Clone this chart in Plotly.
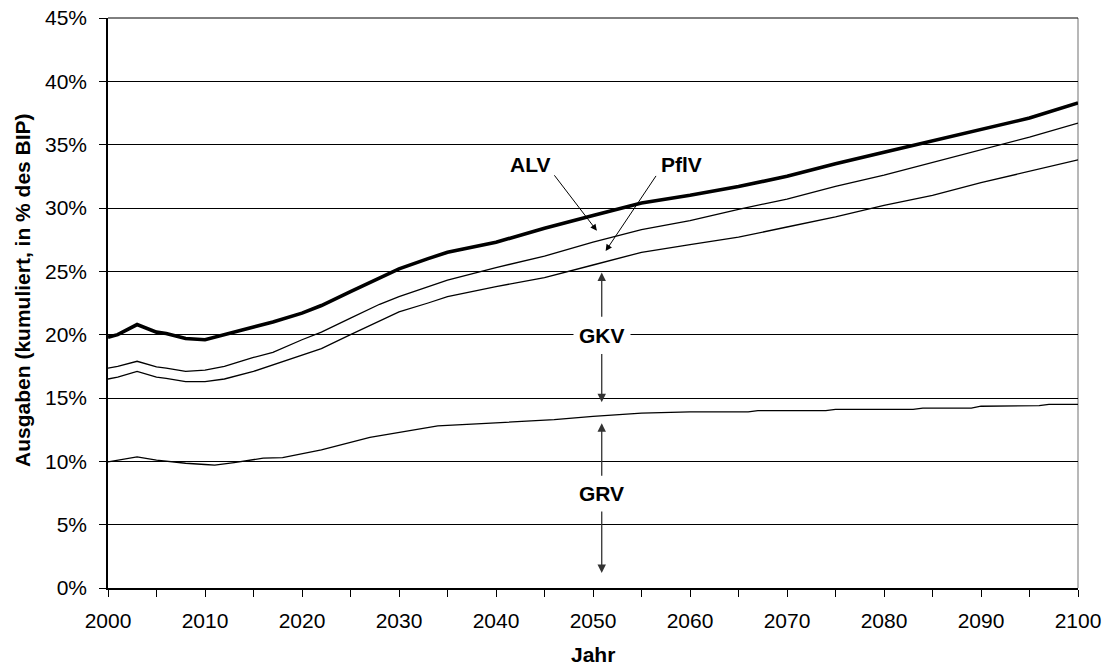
import plotly.graph_objects as go

# ---------------- data (percent of GDP, cumulative) ----------------
years = [2000, 2001, 2003, 2005, 2006, 2008, 2010, 2012, 2015, 2017, 2020, 2022,
         2025, 2028, 2030, 2033, 2035, 2040, 2045, 2050, 2055, 2060, 2065, 2070,
         2075, 2080, 2085, 2090, 2095, 2100]
alv = [19.8, 20.0, 20.8, 20.2, 20.1, 19.7, 19.6, 20.0, 20.6, 21.0, 21.7, 22.3,
       23.4, 24.5, 25.2, 26.0, 26.5, 27.3, 28.4, 29.4, 30.4, 31.0, 31.7, 32.5,
       33.5, 34.4, 35.3, 36.2, 37.1, 38.3]
pflv = [17.35, 17.5, 17.9, 17.45, 17.35, 17.1, 17.2, 17.5, 18.2, 18.6, 19.6, 20.2,
        21.3, 22.4, 23.0, 23.8, 24.3, 25.3, 26.2, 27.3, 28.3, 29.0, 29.9, 30.7,
        31.7, 32.6, 33.6, 34.6, 35.6, 36.7]
gkv = [16.5, 16.65, 17.1, 16.65, 16.55, 16.3, 16.3, 16.5, 17.1, 17.6, 18.4, 18.9,
       20.0, 21.1, 21.8, 22.5, 23.0, 23.8, 24.5, 25.5, 26.5, 27.1, 27.7, 28.5,
       29.3, 30.2, 31.0, 32.0, 32.9, 33.8]
grv_years = [2000, 2003, 2005, 2008, 2010, 2011, 2013, 2016, 2018, 2022, 2027, 2030,
             2034, 2038, 2042, 2046, 2050, 2055, 2060, 2066, 2067, 2074, 2075, 2083,
             2084, 2089, 2090, 2096, 2097, 2100]
grv = [9.95, 10.35, 10.1, 9.85, 9.75, 9.7, 9.9, 10.25, 10.3, 10.9, 11.9, 12.3,
       12.8, 12.95, 13.1, 13.3, 13.55, 13.8, 13.9, 13.9, 14.0, 14.0, 14.1, 14.1,
       14.2, 14.2, 14.35, 14.4, 14.5, 14.5]

y_ticks = [0, 5, 10, 15, 20, 25, 30, 35, 40, 45]
x_ticks = [2000, 2010, 2020, 2030, 2040, 2050, 2060, 2070, 2080, 2090, 2100]

FONT = "Arial, Liberation Sans, sans-serif"

def pct(v):
    return [x / 100 for x in v]

fig = go.Figure()
fig.add_trace(go.Scatter(x=grv_years, y=pct(grv), mode="lines",
                         line=dict(color="black", width=1.3), name="GRV"))
fig.add_trace(go.Scatter(x=years, y=pct(gkv), mode="lines",
                         line=dict(color="black", width=1.3), name="GKV"))
fig.add_trace(go.Scatter(x=years, y=pct(pflv), mode="lines",
                         line=dict(color="black", width=1.3), name="PflV"))
fig.add_trace(go.Scatter(x=years, y=pct(alv), mode="lines",
                         line=dict(color="black", width=3.6), name="ALV"))

annotations = []

def label(text, x, y, bg=None):
    d = dict(x=x, y=y, xref="x", yref="y", text="<b>%s</b>" % text, showarrow=False,
             font=dict(family=FONT, size=21, color="black"),
             xanchor="center", yanchor="middle")
    if bg:
        d.update(bgcolor=bg, borderpad=5)
    annotations.append(d)

def arrow(x0, y0, x1, y1, color="black", width=1):
    annotations.append(dict(x=x1, y=y1, ax=x0, ay=y0, xref="x", yref="y",
                            axref="x", ayref="y", text="", showarrow=True,
                            arrowhead=2, arrowsize=1.3, arrowwidth=width,
                            arrowcolor=color, standoff=0, startstandoff=0))

# ALV
label("ALV", 2043.5, 0.334)
arrow(2045.9, 0.327, 2050.4, 0.282)
# PflV
label("PflV", 2059.1, 0.334)
arrow(2056.6, 0.3265, 2051.3, 0.266)
# GKV
label("GKV", 2050.9, 0.1995, bg="white")
arrow(2050.9, 0.213, 2050.9, 0.249, color="#333", width=1.3)
arrow(2050.9, 0.186, 2050.9, 0.1467, color="#333", width=1.3)
# GRV
label("GRV", 2050.9, 0.075)
arrow(2050.9, 0.0875, 2050.9, 0.130, color="#333", width=1.3)
arrow(2050.9, 0.0615, 2050.9, 0.0118, color="#333", width=1.3)

# axis titles
annotations.append(dict(x=-0.0887, y=0.5228, xref="paper", yref="paper",
                        text="<b>Ausgaben (kumuliert, in % des BIP)</b>", textangle=-90,
                        showarrow=False, font=dict(family=FONT, size=21, color="black"),
                        xanchor="center", yanchor="middle"))
annotations.append(dict(x=0.5, y=-0.117, xref="paper", yref="paper",
                        text="<b>Jahr</b>", showarrow=False,
                        font=dict(family=FONT, size=21, color="black"),
                        xanchor="center", yanchor="middle"))

fig.update_layout(
    width=1110, height=671,
    margin=dict(l=108, r=32, t=18, b=83, autoexpand=False),
    paper_bgcolor="white", plot_bgcolor="white",
    showlegend=False,
    font=dict(family=FONT, size=21, color="black"),
    annotations=annotations,
    shapes=[dict(type="line", xref="paper", yref="paper", x0=1, x1=1, y0=0, y1=1,
                 line=dict(color="#a0a0a0", width=1.5), layer="below"),
            dict(type="line", xref="paper", yref="paper", x0=0, x1=1, y0=1, y1=1,
                 line=dict(color="black", width=1), layer="below")],
)
fig.update_xaxes(range=[2000, 2100], tickvals=x_ticks, showgrid=False, zeroline=False,
                 automargin=False, ticklabeloverflow="allow",
                 showline=True, linecolor="black", linewidth=1.5,
                 ticks="outside", ticklen=7, tickcolor="black", tickwidth=1.2,
                 ticklabelstandoff=6,
                 minor=dict(dtick=5, ticks="outside", ticklen=7, tickcolor="black",
                            tickwidth=1.2, showgrid=False),
                 tickfont=dict(family=FONT, size=21, color="black"))
fig.update_yaxes(range=[0, 0.45], tickvals=[v / 100 for v in y_ticks], tickformat=".0%",
                 showgrid=True, gridcolor="black", gridwidth=1, zeroline=False,
                 automargin=False, ticklabeloverflow="allow",
                 showline=True, linecolor="black", linewidth=1.5,
                 ticks="outside", ticklen=7, tickcolor="black", tickwidth=1.2,
                 ticklabelstandoff=8,
                 tickfont=dict(family=FONT, size=21, color="black"))

# remove the default page margin so the 1110x671 figure fills the window exactly
fig.write_html("out.html",
               config={"displayModeBar": False},
               post_script="document.body.style.margin='0';"
                           "document.body.style.overflow='hidden';")
